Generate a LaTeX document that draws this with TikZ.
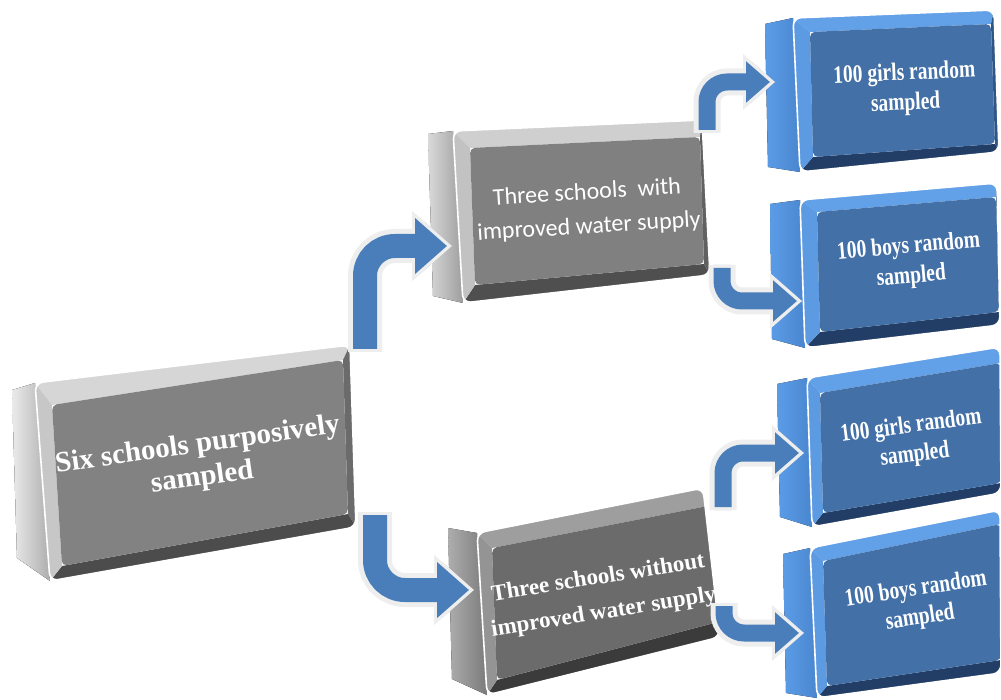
\documentclass[tikz,border=0pt]{standalone}
\usepackage{fontspec}
\setmainfont{Liberation Serif}
\newfontfamily\calfont{Carlito}
\newfontfamily\narrowserif[FakeStretch=0.78]{Liberation Serif}
\usetikzlibrary{arrows.meta}

% palette
\definecolor{arrowblue}{HTML}{4A7EBB}
\definecolor{arrowhalo}{HTML}{EEEEEE}
\definecolor{arrowshade}{HTML}{A7B1C0}

\tikzset{
  % grey slab, light
  greyAside/.style={left color=white!92!black,right color=black!32},
  greyAtop/.style={fill=black!16},
  greyAleft/.style={fill=black!22},
  greyAright/.style={fill=black!58},
  greyAbot/.style={fill=black!70},
  greyAface/.style={fill=black!49},
  % grey slab, medium
  greyBside/.style={left color=black!15,right color=black!38},
  greyBtop/.style={fill=black!19},
  greyBleft/.style={fill=black!24},
  greyBright/.style={fill=black!62},
  greyBbot/.style={fill=black!69},
  greyBface/.style={fill=black!50},
  % grey slab, dark
  greyCside/.style={left color=black!32,right color=black!52},
  greyCtop/.style={fill=black!38},
  greyCleft/.style={fill=black!42},
  greyCright/.style={fill=black!72},
  greyCbot/.style={fill=black!77},
  greyCface/.style={fill=black!58},
  % blue slab
  blueside/.style={left color={rgb,255:red,92;green,156;blue,230},right color={rgb,255:red,74;green,134;blue,208}},
  bluetop/.style={fill={rgb,255:red,98;green,160;blue,232}},
  blueleft/.style={fill={rgb,255:red,92;green,154;blue,226}},
  blueright/.style={fill={rgb,255:red,46;green,85;blue,134}},
  bluebot/.style={fill={rgb,255:red,34;green,62;blue,102}},
  blueface/.style={fill={rgb,255:red,67;green,112;blue,166}},
  % arrows
  bandshadow/.style={draw=arrowshade,line width=#1},
  bandhalo/.style={draw=arrowhalo,line width=#1},
  band/.style={draw=arrowblue,line width=#1},
  slabtext/.style={text=white,align=center,inner sep=0pt},
}

% a bevelled slab seen in perspective; #1 coordinate prefix, #2 colour set
\newcommand\drawslab[2]{%
  \fill[#2side] (#1sT) -- (#1oTL) -- (#1oBL) -- (#1sB) -- cycle;
  \begin{scope}
    \clip[rounded corners=8pt] (#1oTL) -- (#1oTR) -- (#1oBR) -- (#1oBL) -- cycle;
    \fill[#2top]   (#1oTL) -- (#1oTR) -- (#1iTR) -- (#1iTL) -- cycle;
    \fill[#2right] (#1oTR) -- (#1oBR) -- (#1iBR) -- (#1iTR) -- cycle;
    \fill[#2bot]   (#1oBL) -- (#1iBL) -- (#1iBR) -- (#1oBR) -- cycle;
    \fill[#2left]  (#1oTL) -- (#1iTL) -- (#1iBL) -- (#1oBL) -- cycle;
    \fill[#2face,rounded corners=5pt] (#1iTL) -- (#1iTR) -- (#1iBR) -- (#1iBL) -- cycle;
  \end{scope}
  \draw[white,line width=1.6pt,rounded corners=8pt]
    (#1oTL) -- (#1oTR) -- (#1oBR) -- (#1oBL) -- cycle;
}

% a bent arrow with halo and shadow; #1 start, #2 end, #3 path operator,
% #4 band width, #5 head length, #6 head width, #7 corner radius
\newcommand\bentarrow[7]{%
  \draw[bandshadow=#4,rounded corners=#7,xshift=4pt,yshift=-5pt,
        -{Triangle[length=#5,width=#6]}] (#1) #3 (#2);
  \draw[bandhalo={#4+10pt},rounded corners=#7,
        -{Triangle[length=#5+8pt,width=#6+14pt]}] (#1) #3 (#2);
  \draw[band=#4,rounded corners=#7,shorten >=5pt,shorten <=3pt,
        -{Triangle[length=#5,width=#6]}] (#1) #3 (#2);
}

\begin{document}
\begin{tikzpicture}[x=1pt,y=-1pt]
\useasboundingbox (0,0) rectangle (1001,700);

% ---------- slab geometry ----------
% six schools
\coordinate (aoTL) at (35,383);  \coordinate (aoTR) at (350,345);
\coordinate (aoBR) at (356,527); \coordinate (aoBL) at (50,581);
\coordinate (aiTL) at (52,405);  \coordinate (aiTR) at (343,360);
\coordinate (aiBR) at (348,514); \coordinate (aiBL) at (62,566);
\coordinate (asT) at (12,390);   \coordinate (asB) at (17,558);
% with improved supply
\coordinate (boTL) at (453,131); \coordinate (boTR) at (702,120);
\coordinate (boBR) at (710,275); \coordinate (boBL) at (463,303);
\coordinate (biTL) at (470,148); \coordinate (biTR) at (700,137);
\coordinate (biBR) at (704,264); \coordinate (biBL) at (475,285);
\coordinate (bsT) at (428,134);  \coordinate (bsB) at (433,296);
% without improved supply
\coordinate (coTL) at (477,533); \coordinate (coTR) at (703,488);
\coordinate (coBR) at (720,637); \coordinate (coBL) at (487,695);
\coordinate (ciTL) at (492,548); \coordinate (ciTR) at (713,505);
\coordinate (ciBR) at (718,622); \coordinate (ciBL) at (497,680);
\coordinate (csT) at (448,528);  \coordinate (csB) at (452,679);
% girls, upper
\coordinate (doTL) at (793,18);  \coordinate (doTR) at (994,10);
\coordinate (doBR) at (999,152); \coordinate (doBL) at (800,172);
\coordinate (diTL) at (810,32);  \coordinate (diTR) at (991,24);
\coordinate (diBR) at (995,144); \coordinate (diBL) at (813,157);
\coordinate (dsT) at (765,24);   \coordinate (dsB) at (768,167);
% boys, upper
\coordinate (eoTL) at (800,200); \coordinate (eoTR) at (997,183);
\coordinate (eoBR) at (1000,325);\coordinate (eoBL) at (805,348);
\coordinate (eiTL) at (817,212); \coordinate (eiTR) at (996,197);
\coordinate (eiBR) at (999,312); \coordinate (eiBL) at (820,332);
\coordinate (esT) at (770,204);  \coordinate (esB) at (772,339);
% girls, lower
\coordinate (foTL) at (807,378); \coordinate (foTR) at (1000,347);
\coordinate (foBR) at (1001,493);\coordinate (foBL) at (812,527);
\coordinate (fiTL) at (820,393); \coordinate (fiTR) at (1001,363);
\coordinate (fiBR) at (1001,483);\coordinate (fiBL) at (823,513);
\coordinate (fsT) at (777,384);  \coordinate (fsB) at (780,517);
% boys, lower
\coordinate (goTL) at (810,548); \coordinate (goTR) at (1000,510);
\coordinate (goBR) at (1001,673);\coordinate (goBL) at (817,698);
\coordinate (giTL) at (823,561); \coordinate (giTR) at (1001,524);
\coordinate (giBR) at (1001,660);\coordinate (giBL) at (827,686);
\coordinate (gsT) at (783,554);  \coordinate (gsB) at (786,693);

% ---------- slabs ----------
\drawslab{a}{greyA}
\drawslab{b}{greyB}
\drawslab{c}{greyC}
\drawslab{d}{blue}
\drawslab{e}{blue}
\drawslab{f}{blue}
\drawslab{g}{blue}

% ---------- labels ----------
\node[slabtext,rotate=8,font=\bfseries\fontsize{29}{33}\selectfont]
  (six) at (200,462) {Six schools purposively\\sampled};
\node[slabtext,rotate=3.5,font=\calfont\fontsize{24}{34}\selectfont]
  (with) at (588,210) {Three schools\ \ with\\improved water supply};
\node[slabtext,rotate=9,font=\bfseries\fontsize{23}{35}\selectfont]
  (without) at (601,596) {Three schools without\\improved water supply};
\node[slabtext,rotate=2.5,font=\narrowserif\bfseries\fontsize{25}{30}\selectfont]
  (girlsA) at (905,89) {100 girls random\\sampled};
\node[slabtext,rotate=5,font=\narrowserif\bfseries\fontsize{25}{30}\selectfont]
  (boysA) at (910,262) {100 boys random\\sampled};
\node[slabtext,rotate=7.5,font=\narrowserif\bfseries\fontsize{25}{29}\selectfont]
  (girlsB) at (913,441) {100 girls random\\sampled};
\node[slabtext,rotate=8.5,font=\narrowserif\bfseries\fontsize{25}{29}\selectfont]
  (boysB) at (918,604) {100 boys random\\sampled};

% ---------- arrow ends ----------
\coordinate (s1) at (365,352); \coordinate (e1) at (452,246);
\coordinate (s2) at (375,512); \coordinate (e2) at (474,590);
\coordinate (s3) at (707,133); \coordinate (e3) at (775,82);
\coordinate (s4) at (722,265); \coordinate (e4) at (802,301);
\coordinate (s5) at (723,510); \coordinate (e5) at (804,453);
\coordinate (s6) at (724,603); \coordinate (e6) at (804,633);

% ---------- arrows ----------
\bentarrow{s1}{e1}{|-}{24pt}{32pt}{54pt}{30pt}
\bentarrow{s2}{e2}{|-}{24pt}{32pt}{54pt}{30pt}
\bentarrow{s3}{e3}{|-}{17pt}{24pt}{40pt}{20pt}
\bentarrow{s4}{e4}{|-}{17pt}{24pt}{40pt}{20pt}
\bentarrow{s5}{e5}{|-}{17pt}{24pt}{40pt}{20pt}
\bentarrow{s6}{e6}{|-}{17pt}{24pt}{40pt}{20pt}
\end{tikzpicture}
\end{document}
